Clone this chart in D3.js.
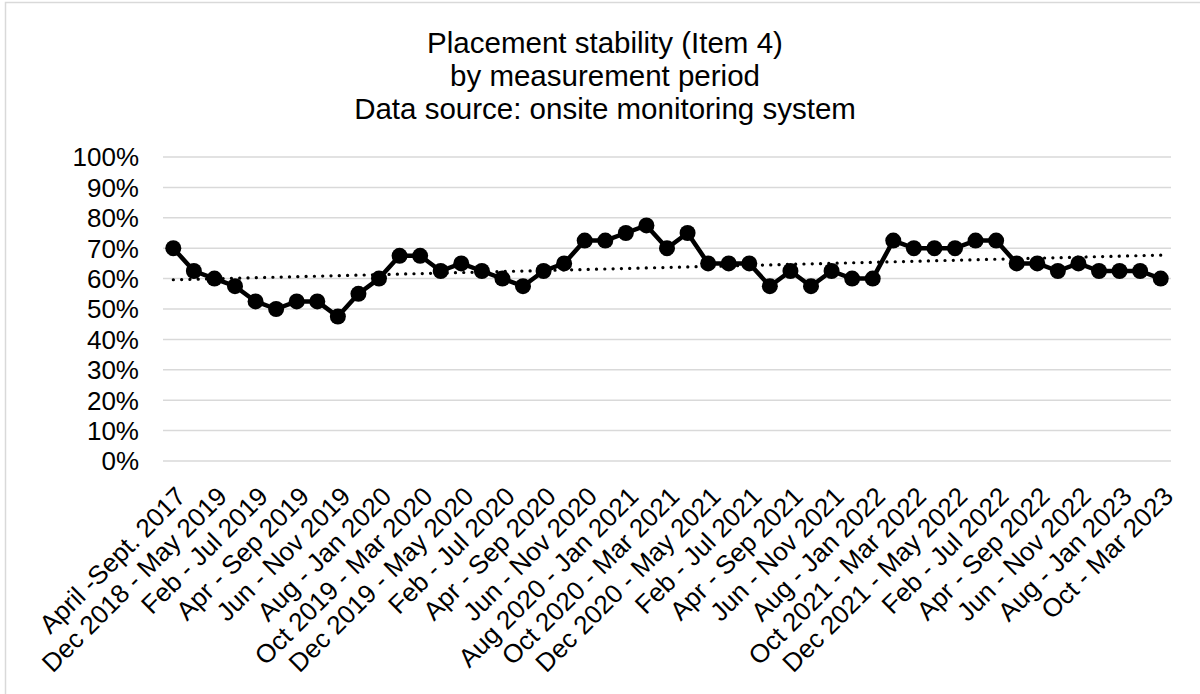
<!DOCTYPE html>
<html>
<head>
<meta charset="utf-8">
<script src="https://cdn.jsdelivr.net/npm/d3@7/dist/d3.min.js"></script>
<style>
  body { margin: 0; background: #fff; }
  svg text { font-family: "Liberation Sans", Arial, sans-serif; fill: #000; }
</style>
</head>
<body>
<div id="chart"></div>
<script>
// rolling 6-month measurement periods, one per month (only every other one is labelled)
var periods = [
  "April -Sept. 2017", "Nov 2018 - Apr 2019", "Dec 2018 - May 2019", "Jan - Jun 2019",
  "Feb - Jul 2019", "Mar - Aug 2019", "Apr - Sep 2019", "May - Oct 2019",
  "Jun - Nov 2019", "Jul - Dec 2019", "Aug - Jan 2020", "Sep 2019 - Feb 2020",
  "Oct 2019 - Mar 2020", "Nov 2019 - Apr 2020", "Dec 2019 - May 2020", "Jan - Jun 2020",
  "Feb - Jul 2020", "Mar - Aug 2020", "Apr - Sep 2020", "May - Oct 2020",
  "Jun - Nov 2020", "Jul - Dec 2020", "Aug 2020 - Jan 2021", "Sep 2020 - Feb 2021",
  "Oct 2020 - Mar 2021", "Nov 2020 - Apr 2021", "Dec 2020 - May 2021", "Jan - Jun 2021",
  "Feb - Jul 2021", "Mar - Aug 2021", "Apr - Sep 2021", "May - Oct 2021",
  "Jun - Nov 2021", "Jul - Dec 2021", "Aug - Jan 2022", "Sep 2021 - Feb 2022",
  "Oct 2021 - Mar 2022", "Nov 2021 - Apr 2022", "Dec 2021 - May 2022", "Jan - Jun 2022",
  "Feb - Jul 2022", "Mar - Aug 2022", "Apr - Sep 2022", "May - Oct 2022",
  "Jun - Nov 2022", "Jul - Dec 2022", "Aug - Jan 2023", "Sep 2022 - Feb 2023",
  "Oct - Mar 2023"
];

// percent stable placements
var stability = [
  70, 62.5, 60, 57.5, 52.5, 50, 52.5, 52.5, 47.5, 55,
  60, 67.5, 67.5, 62.5, 65, 62.5, 60, 57.5, 62.5, 65,
  72.5, 72.5, 75, 77.5, 70, 75, 65, 65, 65, 57.5,
  62.5, 57.5, 62.5, 60, 60, 72.5, 70, 70, 70, 72.5,
  72.5, 65, 65, 62.5, 65, 62.5, 62.5, 62.5, 60
];

var yTicks = [0, 10, 20, 30, 40, 50, 60, 70, 80, 90, 100];

var titleLines = [
  "Placement stability (Item 4)",
  "by measurement period",
  "Data source: onsite monitoring system"
];

var width = 1200,
    height = 694,
    plotLeft = 163, plotRight = 1171,
    plotTop = 157, plotBottom = 461;

var svg = d3.select("#chart").append("svg")
    .attr("width", width)
    .attr("height", height);

svg.append("rect")
    .attr("x", 5.5).attr("y", 2.5)
    .attr("width", width + 10).attr("height", height + 10)
    .attr("fill", "#fff")
    .attr("stroke", "#d9d9d9")
    .attr("stroke-width", 1.5);

var x = d3.scaleBand()
    .domain(d3.range(periods.length))
    .range([plotLeft, plotRight])
    .padding(0);

var y = d3.scaleLinear()
    .domain([0, 100])
    .range([plotBottom, plotTop]);

function cx(i) { return x(i) + x.bandwidth() / 2; }

// title
svg.append("text")
    .attr("text-anchor", "middle")
    .style("font-size", "29.5px")
  .selectAll("tspan")
    .data(titleLines)
  .enter().append("tspan")
    .attr("x", 605)
    .attr("y", function(d, i) { return 53 + i * 33; })
    .text(function(d) { return d; });

// gridlines
svg.append("g").selectAll("line")
    .data(yTicks)
  .enter().append("line")
    .attr("x1", plotLeft).attr("x2", plotRight)
    .attr("y1", function(d) { return y(d); })
    .attr("y2", function(d) { return y(d); })
    .attr("stroke", "#d9d9d9")
    .attr("stroke-width", 1.5);

// y labels
svg.append("g").selectAll("text")
    .data(yTicks)
  .enter().append("text")
    .attr("x", 139)
    .attr("y", function(d) { return y(d) + 9.3; })
    .attr("text-anchor", "end")
    .style("font-size", "26px")
    .text(function(d) { return d + "%"; });

// x labels, every other period
svg.append("g").selectAll("text")
    .data(periods.map(function(p, i) { return {p: p, i: i}; })
      .filter(function(d) { return d.i % 2 === 0; }))
  .enter().append("text")
    .attr("transform", function(d) {
      return "translate(" + (cx(d.i) + 14) + ",498)rotate(-45)";
    })
    .attr("text-anchor", "end")
    .style("font-size", "26px")
    .text(function(d) { return d.p; });

// linear trend line (least squares)
var n = stability.length,
    mx = d3.mean(d3.range(n)),
    my = d3.mean(stability),
    sxy = d3.sum(stability, function(v, i) { return (i - mx) * (v - my); }),
    sxx = d3.sum(d3.range(n), function(i) { return (i - mx) * (i - mx); }),
    slope = sxy / sxx,
    icpt = my - slope * mx;

svg.append("line")
    .attr("x1", cx(0)).attr("x2", cx(n - 1))
    .attr("y1", y(icpt)).attr("y2", y(icpt + slope * (n - 1)))
    .attr("stroke", "#000")
    .attr("stroke-width", 3.2)
    .attr("stroke-linecap", "round")
    .attr("stroke-dasharray", "0.1,8.2");

// series
var line = d3.line()
    .x(function(d, i) { return cx(i); })
    .y(function(d) { return y(d); });

svg.append("path")
    .datum(stability)
    .attr("d", line)
    .attr("fill", "none")
    .attr("stroke", "#000")
    .attr("stroke-width", 4.5)
    .attr("stroke-linejoin", "round");

svg.append("g").selectAll("circle")
    .data(stability)
  .enter().append("circle")
    .attr("cx", function(d, i) { return cx(i); })
    .attr("cy", function(d) { return y(d); })
    .attr("r", 8)
    .attr("fill", "#000");
</script>
</body>
</html>
